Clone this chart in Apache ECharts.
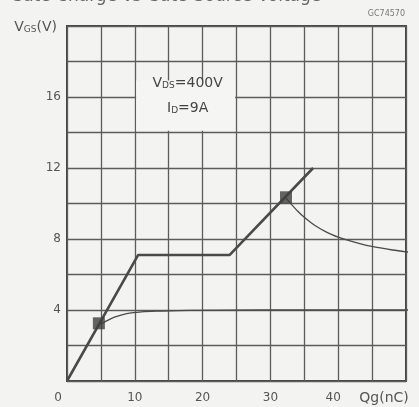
<!DOCTYPE html>
<html><head><meta charset="utf-8">
<script src="https://cdn.jsdelivr.net/npm/echarts@6/dist/echarts.min.js"></script>
<style>html,body{margin:0;padding:0;background:#f3f3f1}#c{width:419px;height:407px}</style>
</head><body><div id="c"></div>
<script>
// Gate charge (nC) vs gate-source voltage (V)
const chargeMain = [0, 10.5, 24.0, 36.3];
const voltsMain  = [0, 7.1, 7.1, 12.0];
const chargeLow  = [4.9, 5.9, 7.0, 8.8, 11.0, 13.7, 18.0, 28.5, 40.0, 51.9];
const voltsLow   = [3.2, 3.4, 3.6, 3.8, 3.9, 3.94, 3.98, 4.0, 4.0, 4.0];
const chargeHigh = [32.3, 33.1, 34.0, 35.0, 36.0, 37.0, 38.0, 39.0, 40.0, 42.0, 44.0, 46.0, 48.0, 50.0, 51.9];
const voltsHigh  = [10.3, 9.95, 9.58, 9.22, 8.92, 8.66, 8.44, 8.26, 8.1, 7.86, 7.66, 7.51, 7.38, 7.28, 7.2];
const chargeMarks = [4.7, 32.3];
const voltsMarks  = [3.25, 10.35];
const xTickLabels = [0, 10, 20, 30, 40];
const yTickLabels = [4, 8, 12, 16];

const zip = (a, b) => a.map((v, i) => [v, b[i]]);
const FONT = 'DejaVu Sans';
const INK = '#4a4a4a';

const chart = echarts.init(document.getElementById('c'), null, {renderer: 'canvas'});
chart.setOption({
  backgroundColor: '#f3f3f1',
  animation: false,
  graphic: [{
    type: 'text', x: 10, y: -12,
    style: {text: 'Gate Charge vs Gate-Source Voltage', fontFamily: FONT, fontSize: 17,
            fill: '#666', verticalAlign: 'top', align: 'left'}
  }, {
    type: 'text', right: 14, top: 10,
    style: {text: 'GC74570', fontFamily: FONT, fontSize: 8, fill: '#777'}
  }],
  grid: {left: 67, right: 13, top: 26, bottom: 26, show: true,
         borderColor: '#444', borderWidth: 2, backgroundColor: 'transparent'},
  xAxis: {
    type: 'value', min: 0, max: 50, interval: 5,
    name: 'Qg(nC)', nameLocation: 'end', nameGap: -22,
    nameTextStyle: {fontFamily: FONT, fontSize: 14, color: '#555', align: 'center',
                    verticalAlign: 'top', padding: [10, 0, 0, 0]},
    axisLine: {show: false}, axisTick: {show: false},
    axisLabel: {
      margin: 11, color: '#555', fontFamily: FONT, fontSize: 12,
      formatter: v => {
        if (!xTickLabels.includes(v)) return '';
        if (v === 0) return '{a|0}';
        if (v === 40) return '{b|40}';
        return String(v);
      },
      rich: {
        a: {fontFamily: FONT, fontSize: 12, color: '#555', padding: [0, 18, 0, 0]},
        b: {fontFamily: FONT, fontSize: 12, color: '#555', padding: [0, 10, 0, 0]}
      }
    },
    splitLine: {show: true, lineStyle: {color: '#5c5c5c', width: 1.3}}
  },
  yAxis: {
    type: 'value', min: 0, max: 20, interval: 2,
    name: '{v|V}{s|GS}{v|(V)}', nameLocation: 'end', nameGap: -1,
    nameTextStyle: {align: 'right', verticalAlign: 'middle', padding: [0, 10, 0, 0],
      rich: {
        v: {fontFamily: FONT, fontSize: 14, color: '#555'},
        s: {fontFamily: FONT, fontSize: 9, color: '#555', padding: [6, 0, 0, 0]}
      }},
    axisLine: {show: false}, axisTick: {show: false},
    axisLabel: {
      margin: 6, color: '#555', fontFamily: FONT, fontSize: 12,
      formatter: v => yTickLabels.includes(v) ? String(v) : ''
    },
    splitLine: {show: true, lineStyle: {color: '#5c5c5c', width: 1.3}}
  },
  series: [
    {
      type: 'line', data: zip(chargeMain, voltsMain), symbol: 'none', z: 4,
      lineStyle: {color: INK, width: 2.6},
      markArea: {
        silent: true,
        itemStyle: {color: '#f5f5f3'},
        label: {
          show: true, position: 'inside', offset: [2, -10],
          formatter: '{v|V}{s|DS}{v|=400V}\n{v|I}{s|D}{v|=9A}',
          lineHeight: 25,
          rich: {
            v: {fontFamily: FONT, fontSize: 14, color: '#444', lineHeight: 25},
            s: {fontFamily: FONT, fontSize: 9, color: '#444', lineHeight: 25, padding: [6, 0, 0, 0]}
          }
        },
        data: [[{xAxis: 10.2, yAxis: 16.93}, {xAxis: 24.8, yAxis: 14.1}]]
      }
    },
    {
      type: 'line', data: zip(chargeLow, voltsLow), symbol: 'none', smooth: 0.3,
      clip: false, z: 3, lineStyle: {color: INK, width: 1.3}
    },
    {
      type: 'line', data: zip(chargeHigh, voltsHigh), symbol: 'none', smooth: 0.3,
      clip: false, z: 3, lineStyle: {color: INK, width: 1.3}
    },
    {
      type: 'scatter', data: zip(chargeMarks, voltsMarks), symbol: 'rect',
      symbolSize: 12, z: 5, itemStyle: {color: '#3e3e3e'}
    }
  ]
});
</script>
</body></html>
